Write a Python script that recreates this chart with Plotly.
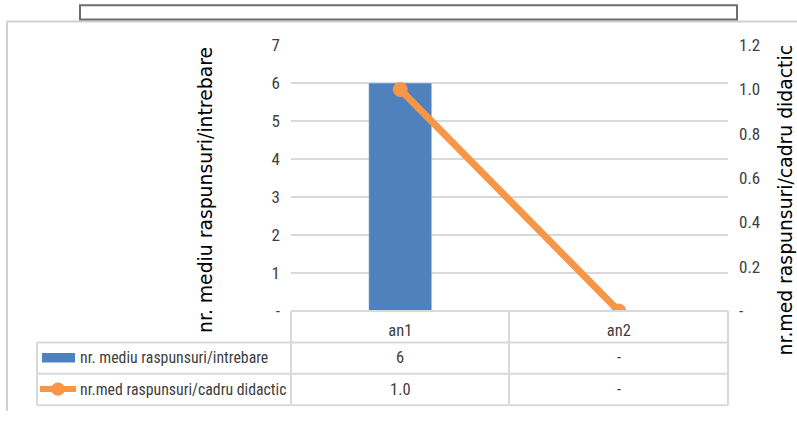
import plotly.graph_objects as go

W, H = 797, 421

categories = ["an1", "an2"]
raspunsuri_intrebare = [6, 0]
raspunsuri_cadru = [1.0, 0]
name_bar = "nr. mediu raspunsuri/intrebare"
name_line = "nr.med raspunsuri/cadru didactic"
left_ticks = [0, 1, 2, 3, 4, 5, 6, 7]
left_labels = ["-", "1", "2", "3", "4", "5", "6", "7"]
right_ticks = [0, 0.2, 0.4, 0.6, 0.8, 1.0, 1.2]
right_labels = ["-", "0.2", "0.4", "0.6", "0.8", "1.0", "1.2"]

BLUE = "#4F81BD"
ORANGE = "#F79646"
GRID = "#D9D9D9"
TXT = "#404040"
NUM_FONT = "Liberation Sans Narrow, Roboto Condensed, Arial Narrow, sans-serif"
TITLE_FONT = "DejaVu Sans, Verdana, sans-serif"


def px(x):
    return x / W


def py(y):
    return 1 - y / H


fig = go.Figure()
fig.add_trace(go.Bar(x=categories, y=raspunsuri_intrebare, name=name_bar,
                     marker_color=BLUE, width=0.29, yaxis="y"))
fig.add_trace(go.Scatter(x=categories, y=raspunsuri_cadru, name=name_line,
                         mode="lines+markers", yaxis="y2",
                         line=dict(color=ORANGE, width=7),
                         marker=dict(color=ORANGE, size=15)))

shapes = []
line_style = dict(color=GRID, width=2)
# outer chart border and top box
shapes.append(dict(type="line", xref="paper", yref="paper", x0=px(7), x1=px(7),
                   y0=py(12), y1=py(421), line=dict(color="#D0D0D0", width=2)))
shapes.append(dict(type="line", xref="paper", yref="paper", x0=px(7), x1=px(797),
                   y0=py(12), y1=py(12), line=dict(color="#D0D0D0", width=2)))
shapes.append(dict(type="rect", xref="paper", yref="paper", x0=px(80), x1=px(737),
                   y0=py(10), y1=py(-5), line=dict(color="#6E6E6E", width=2)))
# data table grid
for y in [316, 349, 382, 415]:
    x0 = 291 if y == 316 else 37
    shapes.append(dict(type="line", xref="paper", yref="paper", x0=px(x0), x1=px(728),
                       y0=py(y), y1=py(y), line=line_style))
for x in [291, 509, 728]:
    shapes.append(dict(type="line", xref="paper", yref="paper", x0=px(x), x1=px(x),
                       y0=py(316), y1=py(415), line=line_style))
shapes.append(dict(type="line", xref="paper", yref="paper", x0=px(37), x1=px(37),
                   y0=py(349), y1=py(415), line=line_style))
# legend keys inside table
shapes.append(dict(type="rect", xref="paper", yref="paper", x0=px(42), x1=px(75),
                   y0=py(370), y1=py(360), fillcolor=BLUE, line=dict(width=0)))
shapes.append(dict(type="line", xref="paper", yref="paper", x0=px(40), x1=px(76),
                   y0=py(398), y1=py(398), line=dict(color=ORANGE, width=6)))
shapes.append(dict(type="circle", xref="paper", yref="paper", x0=px(51), x1=px(65),
                   y0=py(405), y1=py(391), fillcolor=ORANGE, line=dict(width=0)))

ann = []
for row_y, name, vals, fmt in [(365, name_bar, raspunsuri_intrebare, "{:g}"),
                               (398, name_line, raspunsuri_cadru, "{:.1f}")]:
    ann.append(dict(text=name, xref="paper", yref="paper", x=px(78), y=py(row_y),
                    xanchor="left", yanchor="middle", showarrow=False,
                    font=dict(family=NUM_FONT, size=15.8, color=TXT)))
    for cat, v in zip(categories, vals):
        ann.append(dict(text="-" if v == 0 else fmt.format(v), xref="x", yref="paper",
                        x=cat, y=py(row_y), xanchor="center", yanchor="middle",
                        showarrow=False, font=dict(family=NUM_FONT, size=16.5, color=TXT)))
ann.append(dict(text=name_bar, xref="paper", yref="paper", x=px(205), y=py(189),
                textangle=-90, showarrow=False, xanchor="center", yanchor="middle",
                font=dict(family=TITLE_FONT, size=18.8, color="#000000")))
ann.append(dict(text=name_line, xref="paper", yref="paper", x=px(785), y=py(200),
                textangle=-90, showarrow=False, xanchor="center", yanchor="middle",
                font=dict(family=TITLE_FONT, size=18.8, color="#000000")))

fig.update_layout(
    width=W, height=H,
    margin=dict(l=0, r=0, t=0, b=0),
    paper_bgcolor="white", plot_bgcolor="white",
    showlegend=False, bargap=0,
    xaxis=dict(domain=[px(291), px(728)], type="category", showgrid=False,
               showline=False, ticks="", ticklabelstandoff=8,
               tickfont=dict(family=NUM_FONT, size=16.5, color=TXT)),
    yaxis=dict(domain=[py(316), py(37)], range=[0, 7], tickvals=left_ticks,
               ticktext=left_labels, showgrid=True, gridcolor=GRID, gridwidth=2,
               zeroline=False, showline=False, ticks="", ticklabelstandoff=10,
               tickfont=dict(family=NUM_FONT, size=17, color=TXT)),
    yaxis2=dict(overlaying="y", side="right", range=[0, 1.2], tickvals=right_ticks,
                ticktext=right_labels, showgrid=False, zeroline=False, showline=False,
                ticks="", ticklabelstandoff=10,
                tickfont=dict(family=NUM_FONT, size=17, color=TXT)),
    shapes=shapes,
    annotations=ann,
)

fig.write_html("out.html", config={"displayModeBar": False},
               post_script="document.body.style.margin='0';")
